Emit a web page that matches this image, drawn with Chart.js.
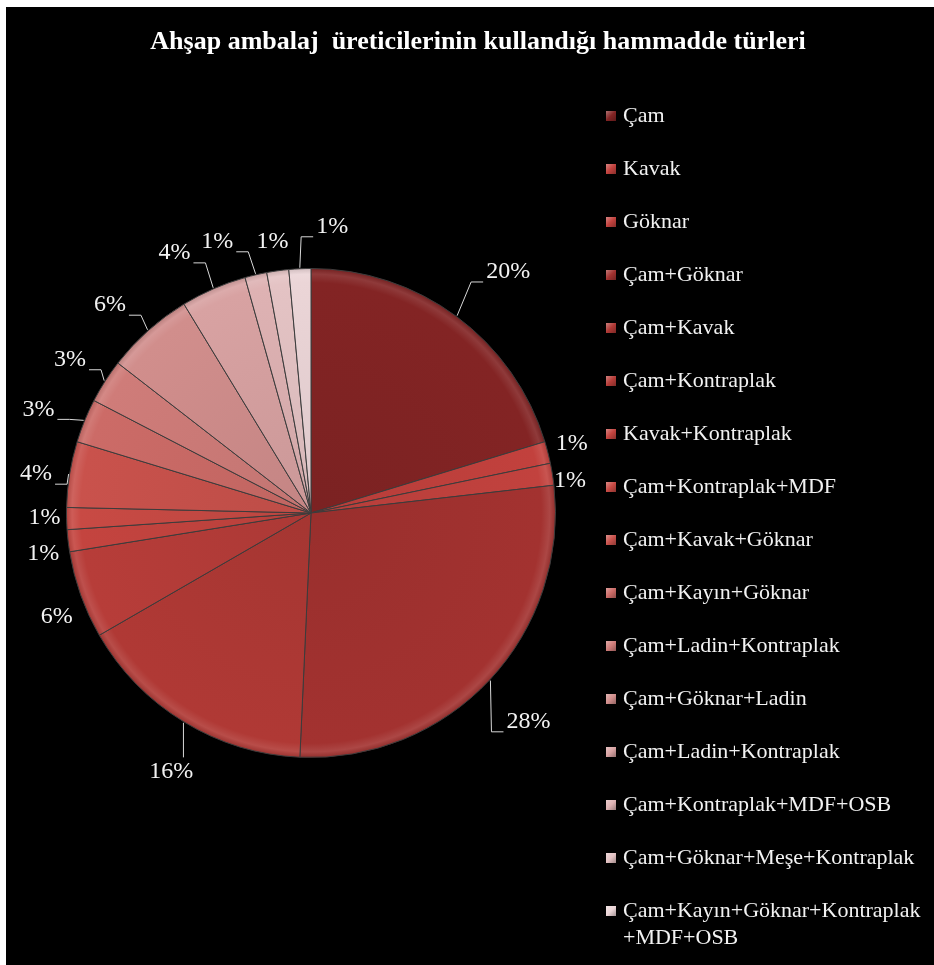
<!DOCTYPE html>
<html>
<head>
<meta charset="utf-8">
<script src="https://cdn.jsdelivr.net/npm/chart.js@4.4.1/dist/chart.umd.min.js"></script>
<style>
  html, body { margin: 0; padding: 0; background: #fff; }
  #cerceve { position: absolute; left: 6px; top: 7px; width: 928px; height: 958px; background: #000; }
</style>
</head>
<body>
<div id="cerceve"><canvas id="pasta" width="928" height="958"></canvas></div>
<script>
// Başlık
const baslik = 'Ahşap ambalaj  üreticilerinin kullandığı hammadde türleri';

// Hammadde türleri (lejant sırası)
const turler = [
  'Çam', 'Kavak', 'Göknar', 'Çam+Göknar', 'Çam+Kavak', 'Çam+Kontraplak',
  'Kavak+Kontraplak', 'Çam+Kontraplak+MDF', 'Çam+Kavak+Göknar', 'Çam+Kayın+Göknar',
  'Çam+Ladin+Kontraplak', 'Çam+Göknar+Ladin', 'Çam+Ladin+Kontraplak',
  'Çam+Kontraplak+MDF+OSB', 'Çam+Göknar+Meşe+Kontraplak',
  ['Çam+Kayın+Göknar+Kontraplak', '+MDF+OSB']
];

// Firma sayıları (toplam 69; dilim açılarından okundu)
const firmaSayisi = [14, 1, 1, 19, 11, 4, 1, 1, 3, 2, 2, 4, 3, 1, 1, 1];

// Dilim renkleri: koyu bordodan açık pembeye
const renkler = [
  '#832424', '#c2413d', '#c2423e', '#a33230', '#b03935', '#b73d39',
  '#c4443f', '#c84a44', '#c9524c', '#cc6b67', '#cf7c79', '#d18e8c',
  '#d8a2a2', '#deb2b3', '#e4c3c4', '#ebd5d7'
];

// Yüzde etiketlerinin yerleşimi (dilim ortasından kaydırma, çizgi tipi)
const etiketDuzeni = [
  { dx: 29, dy: -14, cizgi: 'y' }, { dx: -13, dy: 1, cizgi: null }, { dx: -20, dy: 13, cizgi: null },
  { dx: 11, dy: 16, cizgi: 'y' }, { dx: 7, dy: 17, cizgi: 'd' }, { dx: 12, dy: 9, cizgi: null },
  { dx: 13, dy: 9, cizgi: null }, { dx: 16, dy: -2, cizgi: null }, { dx: 4, dy: 6, cizgi: 'y' },
  { dx: -11, dy: 3, cizgi: 'y' }, { dx: -3, dy: -1, cizgi: 'y' }, { dx: -13, dy: 3, cizgi: 'y' },
  { dx: -24, dy: -1, cizgi: 'y' }, { dx: -30, dy: 4, cizgi: 'y' }, { dx: 0, dy: 9, cizgi: null },
  { dx: 34, dy: -4, cizgi: 'y' }
];

const YAZI = '"Liberation Serif", "Times New Roman", serif';

function renkAyarla(hex, oran) {
  const n = parseInt(hex.slice(1), 16);
  let r = (n >> 16) & 255, g = (n >> 8) & 255, b = n & 255;
  const f = (c) => oran >= 0 ? Math.round(c + (255 - c) * oran) : Math.round(c * (1 + oran));
  return 'rgb(' + f(r) + ',' + f(g) + ',' + f(b) + ')';
}

// Dilimlere hafif kabartma görünümü veren radyal degrade
function dilimDolgusu(context) {
  const renk = renkler[context.dataIndex];
  const alan = context.chart.chartArea;
  if (!alan) return renk;
  const cx = (alan.left + alan.right) / 2, cy = (alan.top + alan.bottom) / 2;
  const r = Math.min(alan.right - alan.left, alan.bottom - alan.top) / 2;
  const g = context.chart.ctx.createRadialGradient(cx, cy, 0, cx, cy, r);
  g.addColorStop(0, renkAyarla(renk, -0.06));
  g.addColorStop(0.94, renk);
  g.addColorStop(0.975, renkAyarla(renk, 0.1));
  g.addColorStop(1, renkAyarla(renk, -0.12));
  return g;
}

// Başlık, yüzde etiketleri ve lejant
const eklentiYazilar = {
  id: 'eklentiYazilar',
  afterDatasetsDraw(chart) {
    const ctx = chart.ctx;
    const meta = chart.getDatasetMeta(0);
    const toplam = firmaSayisi.reduce((a, b) => a + b, 0);

    ctx.save();
    // başlık
    ctx.fillStyle = '#ffffff';
    ctx.font = 'bold 26px ' + YAZI;
    ctx.textAlign = 'center';
    ctx.textBaseline = 'middle';
    ctx.fillText(baslik, 472, 35);

    // yüzde etiketleri
    ctx.font = '24px ' + YAZI;
    ctx.strokeStyle = '#d8d8d8';
    ctx.lineWidth = 1;
    meta.data.forEach((arc, i) => {
      const p = arc.getProps(['x', 'y', 'startAngle', 'endAngle', 'outerRadius'], true);
      const orta = (p.startAngle + p.endAngle) / 2;
      const d = etiketDuzeni[i];
      const ax = p.x + Math.cos(orta) * (p.outerRadius + 38) + d.dx;
      const ay = p.y + Math.sin(orta) * (p.outerRadius + 38) + d.dy;
      const metin = Math.round(firmaSayisi[i] / toplam * 100) + '%';
      const w = ctx.measureText(metin).width;
      const sx = p.x + Math.cos(orta) * (p.outerRadius + 1);
      const sy = p.y + Math.sin(orta) * (p.outerRadius + 1);
      if (d.cizgi === 'y') {
        const sag = ax > p.x;
        const kenar = sag ? ax - w / 2 - 3 : ax + w / 2 + 3;
        const dirsek = sag ? kenar - 12 : kenar + 12;
        ctx.beginPath();
        ctx.moveTo(sx, sy);
        ctx.lineTo(dirsek, ay + 10);
        ctx.lineTo(kenar, ay + 10);
        ctx.stroke();
      } else if (d.cizgi === 'd') {
        ctx.beginPath();
        ctx.moveTo(sx, sy);
        ctx.lineTo(sx, ay - 14);
        ctx.stroke();
      }
      ctx.fillStyle = '#f2f2f2';
      ctx.fillText(metin, ax, ay);
    });

    // lejant
    ctx.font = '22px ' + YAZI;
    ctx.textAlign = 'left';
    turler.forEach((t, i) => {
      const y = 109 + i * 53;
      const kx = 600, ky = y - 5;
      const kg = ctx.createLinearGradient(kx, ky, kx + 10, ky + 10);
      kg.addColorStop(0, renkAyarla(renkler[i], 0.35));
      kg.addColorStop(0.5, renkler[i]);
      kg.addColorStop(1, renkAyarla(renkler[i], -0.3));
      ctx.fillStyle = kg;
      ctx.fillRect(kx, ky, 10, 10);
      ctx.fillStyle = '#f2f2f2';
      const satirlar = Array.isArray(t) ? t : [t];
      satirlar.forEach((s, j) => ctx.fillText(s, 617, y + j * 27));
    });
    ctx.restore();
  }
};

new Chart(document.getElementById('pasta').getContext('2d'), {
  type: 'pie',
  data: {
    labels: turler.map(t => Array.isArray(t) ? t.join('') : t),
    datasets: [{
      data: firmaSayisi,
      backgroundColor: dilimDolgusu,
      borderColor: '#3c3c3c',
      borderWidth: 1,
      hoverOffset: 0
    }]
  },
  options: {
    responsive: false,
    animation: false,
    layout: { padding: { left: 60, top: 261, right: 378, bottom: 207 } },
    plugins: {
      legend: { display: false },
      title: { display: false },
      tooltip: { enabled: false }
    }
  },
  plugins: [eklentiYazilar]
});
</script>
</body>
</html>
